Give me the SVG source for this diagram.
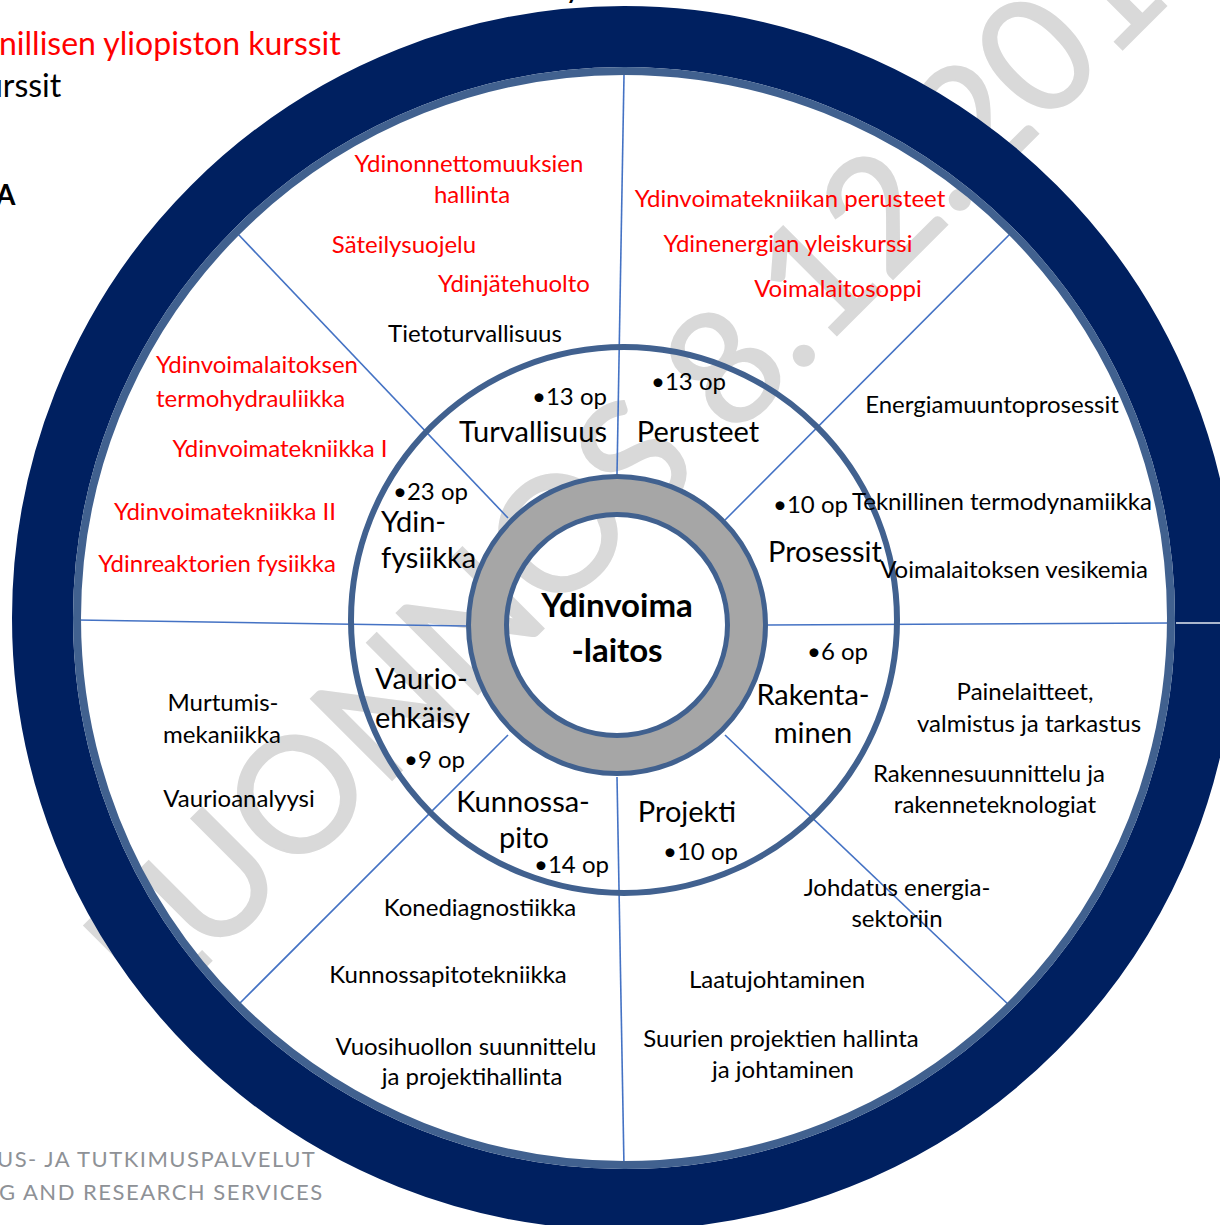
<svg xmlns="http://www.w3.org/2000/svg" width="1220" height="1225" viewBox="0 0 1220 1225">
<style>
text{font-family:Lato,"Open Sans","DejaVu Sans",sans-serif}
.c{font-size:24px;fill:#000;text-anchor:middle}
.s{text-anchor:start}
.r{fill:#FF0000}
.cat{font-size:29px;fill:#000}
.op{font-size:24px;fill:#000;text-anchor:start}
.spoke{stroke:#4472C4;stroke-width:1.6;fill:none}
.ol{stroke:#41618F;fill:none}
.foot{font-size:22px;fill:#8E9196;letter-spacing:1.5px}
</style>
<rect width="1220" height="1225" fill="#FFFFFF"/>
<g id="watermark">
<text transform="translate(155,1017) rotate(-45)" font-size="160" fill="#D9D9D9" stroke="#D9D9D9" stroke-width="2" letter-spacing="-1">LUONNOS 8.12.2014</text>
</g>
<g id="connectors">
<line class="spoke" x1="624" y1="75" x2="617" y2="475"/>
<line class="spoke" x1="237" y1="233" x2="508" y2="518"/>
<line class="spoke" x1="77" y1="620" x2="466" y2="626"/>
<line class="spoke" x1="508" y1="735" x2="237" y2="1006"/>
<line class="spoke" x1="617" y1="777" x2="624" y2="1167"/>
<line class="spoke" x1="725" y1="735" x2="1011" y2="1007"/>
<line class="spoke" x1="768" y1="625" x2="1172" y2="623"/>
<line class="spoke" x1="1011" y1="233" x2="725" y2="520"/>
</g>
<g id="outer-ring">
<circle cx="624" cy="618" r="581.5" fill="none" stroke="#002060" stroke-width="61"/>
<circle class="ol" cx="624" cy="618" r="547" stroke-width="8"/>
<line x1="1176" y1="623" x2="1220" y2="623" stroke="#E3E8F1" stroke-width="1.5"/>
</g>
<g id="middle-ring">
<circle class="ol" cx="624" cy="620" r="273" stroke-width="6"/>
</g>
<g id="center">
<circle cx="617" cy="625" r="129.5" fill="none" stroke="#A6A6A6" stroke-width="39"/>
<circle class="ol" cx="617" cy="625" r="148.5" stroke-width="5"/>
<circle class="ol" cx="617" cy="625" r="110.5" stroke-width="5"/>
<text x="617" y="617" font-size="33" font-weight="bold" text-anchor="middle" fill="#000">Ydinvoima</text>
<text x="617" y="662" font-size="33" font-weight="bold" text-anchor="middle" fill="#000">-laitos</text>
</g>
<g id="legend">
<text x="565" y="-3" font-size="32" fill="#000">y</text>
<text x="-1" y="55" font-size="32" fill="#FF0000">nillisen yliopiston kurssit</text>
<text x="-15" y="97" font-size="32" fill="#000">urssit</text>
<text x="-4" y="205" font-size="28" font-weight="bold" fill="#000">A</text>
<text class="foot" x="-3" y="1167">US- JA TUTKIMUSPALVELUT</text>
<text class="foot" x="-1" y="1200">G AND RESEARCH SERVICES</text>
</g>
<g id="turvallisuus">
<text class="op" x="532" y="405">•13 op</text>
<text class="cat c" x="533" y="442" style="font-size:29px">Turvallisuus</text>
<text class="c r" x="469" y="172">Ydinonnettomuuksien</text>
<text class="c r" x="472" y="203">hallinta</text>
<text class="c r" x="404" y="253">Säteilysuojelu</text>
<text class="c r" x="514" y="292">Ydinjätehuolto</text>
<text class="c" x="475" y="342">Tietoturvallisuus</text>
</g>
<g id="perusteet">
<text class="op" x="651" y="390">•13 op</text>
<text class="cat c" x="698" y="442" style="font-size:29px">Perusteet</text>
<text class="c r" x="790" y="207">Ydinvoimatekniikan perusteet</text>
<text class="c r" x="788" y="252">Ydinenergian yleiskurssi</text>
<text class="c r" x="838" y="297">Voimalaitosoppi</text>
</g>
<g id="prosessit">
<text class="op" x="773" y="513">•10 op</text>
<text class="cat" x="768" y="562">Prosessit</text>
<text class="c" x="992" y="413">Energiamuuntoprosessit</text>
<text class="c" x="1002" y="510">Teknillinen termodynamiikka</text>
<text class="c" x="1014" y="578">Voimalaitoksen vesikemia</text>
</g>
<g id="rakentaminen">
<text class="op" x="807" y="660">•6 op</text>
<text class="cat c" x="813" y="705" style="font-size:29px">Rakenta-</text>
<text class="cat c" x="813" y="743" style="font-size:29px">minen</text>
<text class="c" x="1025" y="700">Painelaitteet,</text>
<text class="c" x="1029" y="732">valmistus ja tarkastus</text>
<text class="c" x="989" y="782">Rakennesuunnittelu ja</text>
<text class="c" x="995" y="813">rakenneteknologiat</text>
</g>
<g id="projekti">
<text class="cat c" x="687" y="822" style="font-size:29px">Projekti</text>
<text class="op" x="663" y="860">•10 op</text>
<text class="c" x="897" y="896">Johdatus energia-</text>
<text class="c" x="897" y="927">sektoriin</text>
<text class="c" x="777" y="988">Laatujohtaminen</text>
<text class="c" x="781" y="1047">Suurien projektien hallinta</text>
<text class="c" x="783" y="1078">ja johtaminen</text>
</g>
<g id="kunnossapito">
<text class="cat c" x="523" y="812" style="font-size:29px">Kunnossa-</text>
<text class="cat c" x="524" y="848" style="font-size:29px">pito</text>
<text class="op" x="534" y="873">•14 op</text>
<text class="c" x="480" y="916">Konediagnostiikka</text>
<text class="c" x="448" y="983">Kunnossapitotekniikka</text>
<text class="c" x="466" y="1055">Vuosihuollon suunnittelu</text>
<text class="c" x="472" y="1085">ja projektihallinta</text>
</g>
<g id="vaurionehkaisy">
<text class="cat" x="375" y="689">Vaurio-</text>
<text class="cat" x="375" y="728">ehkäisy</text>
<text class="op" x="404" y="768">•9 op</text>
<text class="c" x="223" y="711">Murtumis-</text>
<text class="c" x="222" y="743">mekaniikka</text>
<text class="c" x="239" y="807">Vaurioanalyysi</text>
</g>
<g id="ydinfysiikka">
<text class="op" x="393" y="500">•23 op</text>
<text class="cat" x="381" y="532">Ydin-</text>
<text class="cat" x="381" y="568">fysiikka</text>
<text class="c r" x="225" y="520">Ydinvoimatekniikka II</text>
<text class="c r" x="217" y="572">Ydinreaktorien fysiikka</text>
<text class="c r" x="280" y="457">Ydinvoimatekniikka I</text>
<text class="c r s" x="156" y="373">Ydinvoimalaitoksen</text>
<text class="c r s" x="156" y="407">termohydrauliikka</text>
</g>
</svg>
